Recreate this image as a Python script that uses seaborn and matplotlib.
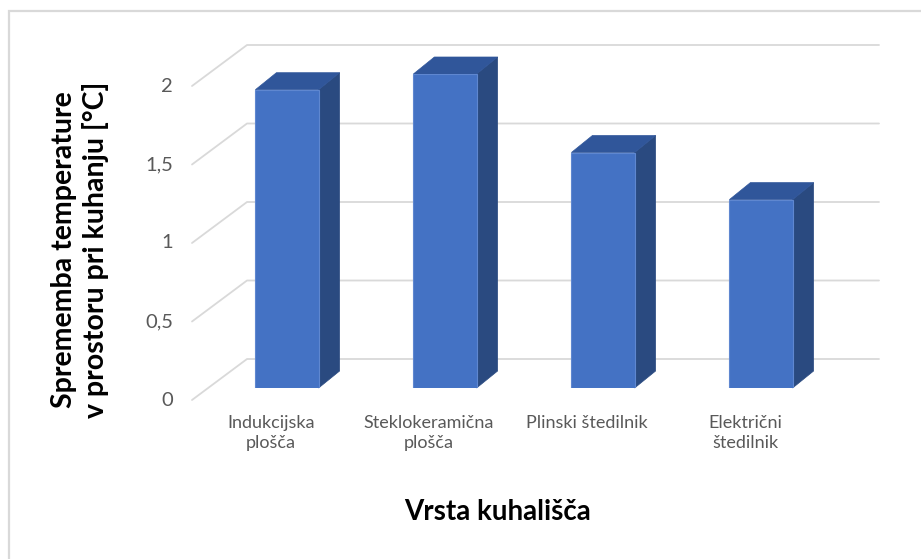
# 3D-style column chart: temperature change in the room while cooking, by type of cooktop
import numpy as np
import pandas as pd
import matplotlib
matplotlib.use("Agg")
import matplotlib.pyplot as plt
from matplotlib.patches import Polygon, Rectangle
import seaborn as sns

# data
categories = ["Indukcijska\nplošča", "Steklokeramična\nplošča", "Plinski štedilnik", "Električni\nštedilnik"]
values = [1.9, 2.0, 1.5, 1.2]
y_ticks = [0, 0.5, 1, 1.5, 2]
y_tick_labels = ["0", "0,5", "1", "1,5", "2"]
x_title = "Vrsta kuhališča"
y_title = "Sprememba temperature\nv prostoru pri kuhanju [°C]"

df = pd.DataFrame({"kuhalisce": categories, "dT": values})

sns.set_style("white")
plt.rcParams["font.family"] = ["Lato", "DejaVu Sans"]

W, H = 921, 559
fig = plt.figure(figsize=(W / 100, H / 100), dpi=100)
# axes = plane of the bar front faces (pixel box measured on the reference)
ax = fig.add_axes([208 / W, (H - 388) / H, 632 / W, 314 / H])
sns.barplot(data=df, x="kuhalisce", y="dT", color="#4472C4", width=0.4,
            saturation=1, ax=ax, zorder=3, edgecolor="#5f87d0", linewidth=0.8)
ax.set_xlim(-0.5, 3.5)
ax.set_ylim(0, 2)
ax.set_axis_off()

# pixels per data unit, to turn pixel depth offsets into data offsets
px_x = ax.transData.transform((1, 0))[0] - ax.transData.transform((0, 0))[0]
px_y = ax.transData.transform((0, 1))[1] - ax.transData.transform((0, 0))[1]

def off(dx, dy):
    return dx / px_x, dy / px_y

# depth: label plane in front, back wall behind, bar depth
lab_dx, lab_dy = off(-16, -12)
wall_dx, wall_dy = off(39, 29)
bar_dx, bar_dy = off(21, 17)

grid_col = "#d9d9d9"
x0, x1 = ax.get_xlim()
for v, lab in zip(y_ticks, y_tick_labels):
    xs = [x0 + lab_dx, x0 + wall_dx, x1 + wall_dx]
    ys = [v + lab_dy, v + wall_dy, v + wall_dy]
    ax.plot(xs, ys, color=grid_col, lw=1.3, zorder=1, clip_on=False)
    ax.text(x0 + lab_dx + off(-19, 0)[0], v + lab_dy, lab, ha="right", va="center",
            fontsize=14.5, color="#595959", clip_on=False)

# side and top faces of each bar
for p in ax.patches:
    bx0 = p.get_x()
    bx1 = bx0 + p.get_width()
    h = p.get_height()
    side = [(bx1, 0), (bx1 + bar_dx, bar_dy), (bx1 + bar_dx, h + bar_dy), (bx1, h)]
    top = [(bx0, h), (bx1, h), (bx1 + bar_dx, h + bar_dy), (bx0 + bar_dx, h + bar_dy)]
    ax.add_patch(Polygon(side, closed=True, facecolor="#2a4a80", edgecolor="#2a4a80",
                         lw=0.5, zorder=2, clip_on=False))
    ax.add_patch(Polygon(top, closed=True, facecolor="#30569a", edgecolor="#30569a",
                         lw=0.5, zorder=2, clip_on=False))

# category labels under the label plane
for i, cat in enumerate(categories):
    ax.text(i + lab_dx, lab_dy + off(0, -15)[1], cat, ha="center", va="top",
            fontsize=13, color="#595959", linespacing=1.3, clip_on=False)

fig.text(498 / W, 1 - 512 / H, x_title, ha="center", va="center",
         fontsize=20, fontweight="bold", color="black")
fig.text(80 / W, 1 - 250 / H, y_title, ha="center", va="center", rotation=90,
         fontsize=20.5, fontweight="bold", color="black", linespacing=1.22,
         multialignment="center")

# light chart-area border (only top and left edges are visible)
fig.patches.append(Rectangle((8.5 / W, -0.1), 1.2, 1.1 - 10.5 / H, transform=fig.transFigure,
                             fill=False, edgecolor="#d9d9d9", lw=1.6))

fig.savefig("out.png", dpi=100)
